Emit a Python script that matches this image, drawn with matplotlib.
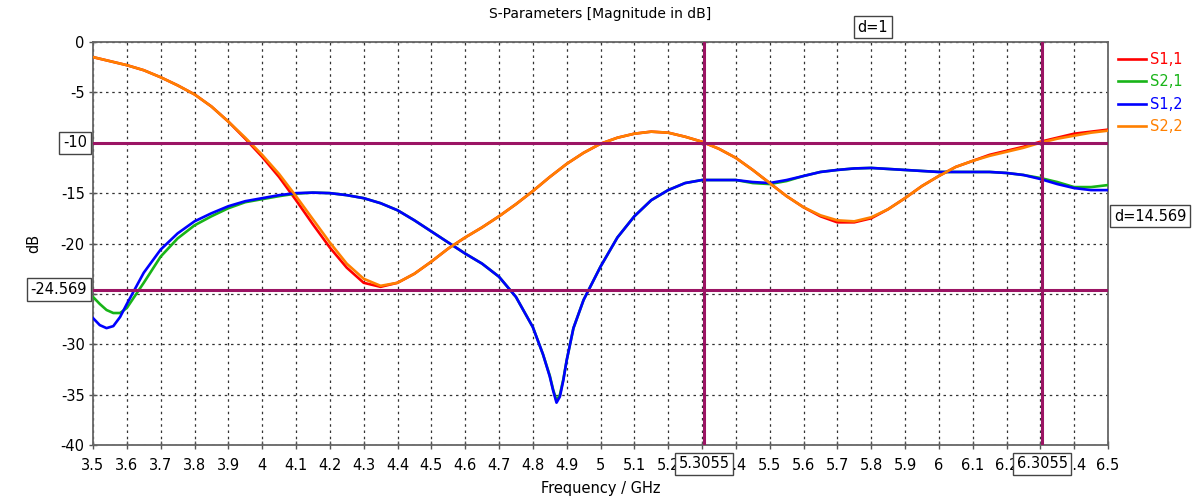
import matplotlib
matplotlib.use("Agg")
import matplotlib.pyplot as plt
from matplotlib.ticker import MultipleLocator, FormatStrFormatter
import matplotlib.transforms as mtransforms

# Reflection curves (S1,1 / S2,2), frequency in GHz, magnitude in dB
freq_refl = [3.50, 3.55, 3.60, 3.65, 3.70, 3.75, 3.80, 3.85, 3.90, 3.95,
             4.00, 4.05, 4.10, 4.15, 4.20, 4.25, 4.30, 4.35, 4.40, 4.45,
             4.50, 4.55, 4.60, 4.65, 4.70, 4.75, 4.80, 4.85, 4.90, 4.95,
             5.00, 5.05, 5.10, 5.15, 5.20, 5.25, 5.30, 5.35, 5.40, 5.45,
             5.50, 5.55, 5.60, 5.65, 5.70, 5.75, 5.80, 5.85, 5.90, 5.95,
             6.00, 6.05, 6.10, 6.15, 6.20, 6.25, 6.30, 6.35, 6.40, 6.45, 6.50]
s22 = [-1.5, -1.9, -2.3, -2.8, -3.5, -4.3, -5.2, -6.4, -7.9, -9.5,
       -11.2, -13.1, -15.3, -17.6, -19.9, -22.0, -23.5, -24.2, -23.9, -23.0,
       -21.8, -20.5, -19.4, -18.4, -17.3, -16.1, -14.8, -13.4, -12.1, -11.0,
       -10.1, -9.5, -9.1, -8.9, -9.0, -9.4, -9.9, -10.6, -11.5, -12.7,
       -14.0, -15.3, -16.4, -17.2, -17.7, -17.8, -17.4, -16.6, -15.5, -14.3,
       -13.3, -12.4, -11.8, -11.3, -10.9, -10.5, -10.0, -9.6, -9.3, -9.0, -8.8]
s11 = [-1.5, -1.9, -2.3, -2.8, -3.5, -4.3, -5.2, -6.4, -7.9, -9.6,
       -11.4, -13.4, -15.7, -18.1, -20.4, -22.4, -23.9, -24.3, -23.9, -23.0,
       -21.8, -20.5, -19.4, -18.4, -17.3, -16.1, -14.8, -13.4, -12.1, -11.0,
       -10.1, -9.5, -9.1, -8.9, -9.0, -9.4, -9.9, -10.6, -11.5, -12.7,
       -14.0, -15.3, -16.4, -17.3, -17.9, -17.9, -17.5, -16.6, -15.5, -14.3,
       -13.3, -12.4, -11.8, -11.2, -10.8, -10.4, -9.9, -9.5, -9.1, -8.9, -8.7]

# Transmission curves (S2,1 / S1,2)
freq_trans = [3.50, 3.52, 3.54, 3.56, 3.58, 3.60, 3.65, 3.70, 3.75, 3.80,
              3.85, 3.90, 3.95, 4.00, 4.05, 4.10, 4.15, 4.20, 4.25, 4.30,
              4.35, 4.40, 4.45, 4.50, 4.55, 4.60, 4.65, 4.70, 4.75, 4.80,
              4.83, 4.85, 4.86, 4.87, 4.88, 4.89, 4.90, 4.92, 4.95, 5.00,
              5.05, 5.10, 5.15, 5.20, 5.25, 5.30, 5.35, 5.40, 5.45, 5.50,
              5.55, 5.60, 5.65, 5.70, 5.75, 5.80, 5.85, 5.90, 5.95, 6.00,
              6.05, 6.10, 6.15, 6.20, 6.25, 6.30, 6.35, 6.40, 6.45, 6.50]
s12 = [-27.4, -28.1, -28.4, -28.2, -27.3, -26.0, -22.9, -20.6, -19.0, -17.8,
       -17.0, -16.3, -15.8, -15.5, -15.2, -15.0, -14.95, -15.0, -15.2, -15.5,
       -16.0, -16.7, -17.7, -18.8, -19.9, -21.0, -22.0, -23.3, -25.3, -28.3,
       -31.0, -33.2, -34.6, -35.8, -35.2, -33.6, -31.6, -28.4, -25.6, -22.3,
       -19.4, -17.3, -15.7, -14.7, -14.0, -13.7, -13.7, -13.7, -13.9, -14.0,
       -13.7, -13.3, -12.9, -12.7, -12.55, -12.5, -12.6, -12.7, -12.8, -12.9,
       -12.9, -12.9, -12.9, -13.0, -13.2, -13.6, -14.1, -14.5, -14.7, -14.7]
s21 = [-25.3, -26.0, -26.6, -26.9, -26.9, -26.4, -23.9, -21.3, -19.5, -18.2,
       -17.3, -16.5, -15.9, -15.6, -15.3, -15.05, -14.95, -15.0, -15.2, -15.5,
       -16.0, -16.7, -17.7, -18.8, -19.9, -21.0, -22.0, -23.3, -25.3, -28.3,
       -31.0, -33.1, -34.5, -35.6, -35.0, -33.5, -31.6, -28.4, -25.6, -22.3,
       -19.4, -17.3, -15.7, -14.7, -14.0, -13.7, -13.7, -13.7, -14.0, -14.1,
       -13.8, -13.3, -12.9, -12.7, -12.55, -12.5, -12.6, -12.7, -12.8, -12.9,
       -12.9, -12.9, -12.9, -13.0, -13.2, -13.5, -13.9, -14.4, -14.4, -14.2]

# Marker positions
y_markers = [-10.0, -24.569]
x_markers = [5.3055, 6.3055]

plt.rcParams['font.family'] = ['DejaVu Sans']
fig = plt.figure(figsize=(11.99, 5.01), dpi=100)
ax = fig.add_axes([93 / 1199, 1 - 445 / 501, (1108 - 93) / 1199, (445 - 42) / 501])

ax.plot(freq_refl, s11, color='#ff0000', lw=1.9, label='S1,1', zorder=3)
ax.plot(freq_trans, s21, color='#18b418', lw=1.9, label='S2,1', zorder=3)
ax.plot(freq_trans, s12, color='#0000ff', lw=1.9, label='S1,2', zorder=3)
ax.plot(freq_refl, s22, color='#ff8000', lw=1.9, label='S2,2', zorder=3)

mk_color = '#9b1464'
for yv in y_markers:
    ax.axhline(yv, color=mk_color, lw=2.2, zorder=4)
for xv in x_markers:
    ax.axvline(xv, color=mk_color, lw=2.2, zorder=4)

ax.set_xlim(3.5, 6.5)
ax.set_ylim(-40, 0)
ax.xaxis.set_major_locator(MultipleLocator(0.1))
ax.yaxis.set_major_locator(MultipleLocator(5))
ax.xaxis.set_major_formatter(FormatStrFormatter('%g'))
ax.yaxis.set_major_formatter(FormatStrFormatter('%g'))
ax.tick_params(direction='inout', length=6, width=1, color='#555555',
               labelsize=10.5, pad=3)
ax.tick_params(axis='x', pad=6)
ax.grid(True, color='#333333', linestyle=(0, (2, 3)), lw=0.9)
for sp in ax.spines.values():
    sp.set_color('#666666')
    sp.set_linewidth(1.3)

ax.set_title('S-Parameters [Magnitude in dB]', fontsize=10, pad=17)
ax.set_xlabel('Frequency / GHz', fontsize=10.5, labelpad=6)
ax.set_ylabel('dB', fontsize=10.5, labelpad=14)

# marker readouts in white boxes on top of the tick labels
box = dict(boxstyle='square,pad=0.25', facecolor='white', edgecolor='#444444', lw=1)
ytrans = mtransforms.blended_transform_factory(ax.transAxes, ax.transData)
xtrans = mtransforms.blended_transform_factory(ax.transData, ax.transAxes)
for yv in y_markers:
    ax.text(-0.006, yv, '%g' % yv, transform=ytrans, ha='right', va='center',
            fontsize=10.5, bbox=box, zorder=10, clip_on=False)
for xv in x_markers:
    ax.text(xv, -0.047, '%g' % xv, transform=xtrans, ha='center', va='center',
            fontsize=10.5, bbox=box, zorder=10, clip_on=False)

dx = x_markers[1] - x_markers[0]
dy = y_markers[0] - y_markers[1]
ax.text((x_markers[0] + x_markers[1]) / 2, 1.037, 'd=%g' % dx, transform=xtrans,
        ha='center', va='center', fontsize=10.5, bbox=box, zorder=10, clip_on=False)
ax.text(1.006, (y_markers[0] + y_markers[1]) / 2, 'd=%g' % dy, transform=ytrans,
        ha='left', va='center', fontsize=10.5, bbox=box, zorder=10, clip_on=False)

ax.legend(loc='upper left', bbox_to_anchor=(1.0, 1.0), frameon=False,
          fontsize=10.5, handlelength=1.9, handletextpad=0.25, labelspacing=0.5,
          labelcolor='linecolor', borderaxespad=0.4, borderpad=0.3)

fig.savefig('out.png', dpi=100)
